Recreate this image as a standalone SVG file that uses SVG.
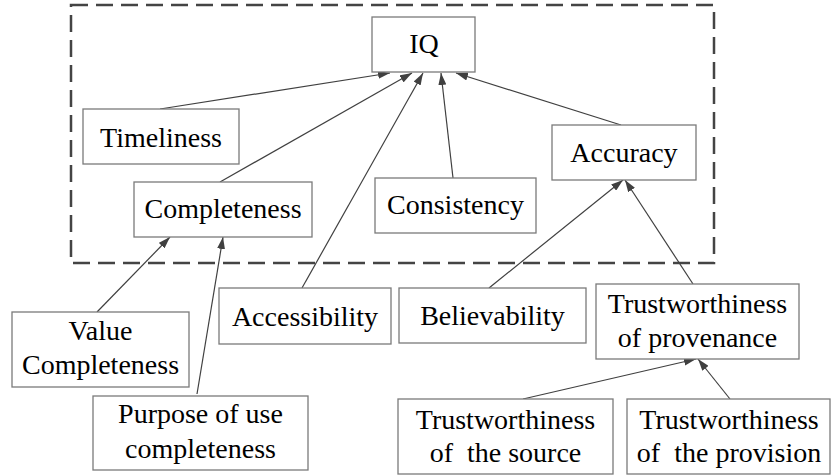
<svg xmlns="http://www.w3.org/2000/svg" width="831" height="475" viewBox="0 0 831 475">
<style>
.box{fill:#fff;stroke:#7a7a7a;stroke-width:1.3}
.c{stroke:#404040;stroke-width:1.2;fill:none;marker-end:url(#ah)}
.frame{fill:none;stroke:#444;stroke-width:2.5;stroke-dasharray:17 8}
</style>
<defs>
<marker id="ah" viewBox="0 0 12 8" refX="12" refY="4" markerWidth="12" markerHeight="8" markerUnits="userSpaceOnUse" orient="auto">
<path d="M0,0 L12,4 L0,8 z" fill="#404040"/>
</marker>
</defs>
<rect class="frame" x="71" y="5" width="643" height="258"/>
<g id="connectors">
<line class="c" x1="160" y1="109" x2="390" y2="73"/>
<line class="c" x1="220" y1="182" x2="412" y2="73"/>
<line class="c" x1="302" y1="288" x2="423" y2="73"/>
<line class="c" x1="453" y1="178" x2="441" y2="73"/>
<line class="c" x1="621" y1="125" x2="456" y2="73"/>
<line class="c" x1="97" y1="312" x2="170" y2="237"/>
<line class="c" x1="197" y1="394" x2="223" y2="237"/>
<line class="c" x1="489" y1="288" x2="623" y2="180"/>
<line class="c" x1="693" y1="284" x2="625" y2="180"/>
<line class="c" x1="523" y1="399" x2="696" y2="359"/>
<line class="c" x1="730" y1="399" x2="698" y2="359"/>
</g>
<g font-family="Liberation Serif, Times New Roman, serif" font-size="28" text-anchor="middle" fill="#000">
<g id="iq"><rect class="box" x="372" y="17" width="103" height="55"/><text x="424" y="53">IQ</text></g>
<g id="timeliness"><rect class="box" x="83" y="109" width="156" height="55"/><text x="161" y="147">Timeliness</text></g>
<g id="completeness"><rect class="box" x="134" y="182" width="178" height="55"/><text x="223" y="218">Completeness</text></g>
<g id="consistency"><rect class="box" x="375" y="178" width="161" height="55"/><text x="455.5" y="214">Consistency</text></g>
<g id="accuracy"><rect class="box" x="552" y="125" width="144" height="55"/><text x="624" y="162">Accuracy</text></g>
<g id="value-completeness"><rect class="box" x="12" y="312" width="177" height="75"/><text x="100.5" y="340">Value</text><text x="100.5" y="374">Completeness</text></g>
<g id="purpose"><rect class="box" x="93" y="396" width="215" height="74"/><text x="200.5" y="423">Purpose of use</text><text x="200.5" y="458">completeness</text></g>
<g id="accessibility"><rect class="box" x="219" y="288" width="172" height="56"/><text x="305" y="326">Accessibility</text></g>
<g id="believability"><rect class="box" x="399" y="288" width="187" height="55"/><text x="492.5" y="325">Believability</text></g>
<g id="provenance"><rect class="box" x="596" y="284" width="203" height="75"/><text x="697.5" y="313">Trustworthiness</text><text x="697.5" y="347">of provenance</text></g>
<g id="source"><rect class="box" x="398" y="399" width="215" height="75"/><text x="505.5" y="429">Trustworthiness</text><text x="505.5" y="462" xml:space="preserve">of  the source</text></g>
<g id="provision"><rect class="box" x="627" y="399" width="203" height="75"/><text x="729" y="429">Trustworthiness</text><text x="729" y="462" xml:space="preserve">of  the provision</text></g>
</g>
</svg>
